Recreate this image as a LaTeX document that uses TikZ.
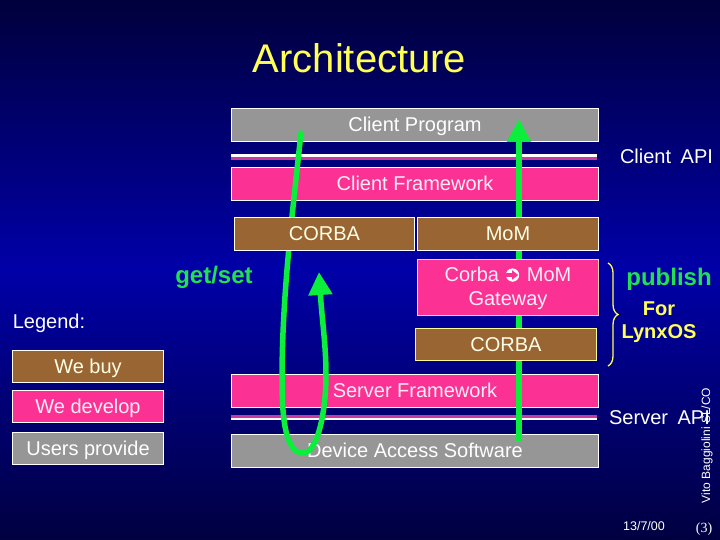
\documentclass[tikz,border=0pt]{standalone}
\usepackage{fontspec}
\setmainfont{Liberation Sans}
\newfontfamily\serifnum{Liberation Serif}
\usetikzlibrary{arrows.meta,decorations.pathreplacing}
\definecolor{pinkbox}{HTML}{FB3194}
\definecolor{brownbox}{HTML}{996633}
\definecolor{greybox}{HTML}{969696}
\definecolor{arrowgreen}{HTML}{0BEE3C}
\definecolor{txtgreen}{HTML}{22E050}
\definecolor{hiyellow}{HTML}{FFFF55}
\definecolor{bgdark}{HTML}{00003C}
\definecolor{bgmid}{HTML}{0000A8}
\definecolor{bgbot}{HTML}{000040}
\definecolor{apiline}{HTML}{C83A9C}
\tikzset{
  x=1pt,y=-1pt,
  box/.style={draw=white,line width=1pt,inner sep=0pt,anchor=north west,align=center,font=\fontsize{20}{24}\selectfont},
  one/.style={text height=17pt,text depth=4pt},
  pinkb/.style={box,fill=pinkbox,text=white!92!pinkbox},
  brownb/.style={box,one,fill=brownbox,text=white!90!yellow},
  greyb/.style={box,one,fill=greybox,text=white},
  lab/.style={font=\fontsize{20}{24}\selectfont,text=white,inner sep=0pt},
  flow/.style={draw=arrowgreen,line width=5.5pt,line cap=round,-{Triangle[length=23pt,width=23pt]}},
  hi/.style={font=\bfseries\fontsize{24}{26}\selectfont,text=txtgreen,inner sep=0pt},
  yel/.style={font=\bfseries\fontsize{20}{23}\selectfont,text=hiyellow,inner sep=0pt,align=center},
}
\begin{document}
\begin{tikzpicture}
\useasboundingbox (0,0) rectangle (720,540);
\shade[top color=bgdark,bottom color=bgbot,middle color=bgmid] (0,0) rectangle (720,540);

\node[font=\fontsize{40}{44}\selectfont,text=hiyellow,inner sep=0pt] (title) at (359.5,58) {Architecture};

% layer boxes that the flows run over
\node[greyb,minimum width=367pt,minimum height=33pt] (prog) at (231,108) {Client Program};
\fill[white] (231,154.5) rectangle (597,157.5);
\fill[apiline] (231,157.5) rectangle (597,160);
\node[pinkb,one,minimum width=367pt,minimum height=33pt] (cfw) at (231,167) {Client Framework};
\node[pinkb,one,minimum width=367pt,minimum height=33pt] (sfw) at (231,374) {Server Framework};
\fill[apiline] (231,414.5) rectangle (597,417.5);
\fill[white] (231,417.5) rectangle (597,419.5);
\node[greyb,minimum width=367pt,minimum height=33pt] (das) at (231,434) {Device Access Software};

% flows
\coordinate (rstart) at (519,442);
\coordinate (rtip) at (519,119);
\coordinate (lstart) at (301,133);
\coordinate (lbot) at (303,453);
\coordinate (ltip) at (319,272);
\draw[flow,line cap=butt] (rstart) -- (rtip);
\draw[draw=arrowgreen,line width=5.5pt,line cap=round] (lstart) .. controls (291,225) and (282,300) .. (282,380) .. controls (282,425) and (287,453) .. (lbot);
\draw[flow] (lbot) .. controls (318,453) and (326,410) .. (326,375) .. controls (326,345) and (322,320) .. (ltip);

% boxes above the flows
\node[brownb,minimum width=180pt,minimum height=33pt] (corba1) at (234,217) {CORBA};
\node[brownb,minimum width=181pt,minimum height=33pt] (mom) at (417,217) {MoM};
\node[pinkb,draw=white!65!orange,minimum width=181pt,minimum height=56pt] (gw) at (417,259) {\rule{0pt}{17pt}Corba {\fontspec{DejaVu Sans}\fontsize{20}{18}\selectfont➲} MoM\\[0pt]Gateway};
% the circled arrow, drawn to the size of the glyph in the reference
\fill[white] (512.5,275) circle[radius=6.6pt];
\fill[pinkbox] (506,273.2) -- (512,273.2) -- (512,270.2) -- (518.2,275) -- (512,279.8) -- (512,276.8) -- (506,276.8) -- cycle;
\node[brownb,draw=white!60!yellow,minimum width=181pt,minimum height=32pt] (corba2) at (415,328) {CORBA};

% legend
\node[lab] (legend) at (49,323) {Legend:};
\node[brownb,minimum width=151pt,minimum height=32pt] (buy) at (12,350) {We buy};
\node[pinkb,one,minimum width=151pt,minimum height=32pt] (dev) at (12,390) {We develop};
\node[greyb,minimum width=151pt,minimum height=32pt] (users) at (12,432) {Users provide};

% labels
\node[lab] (capi) at (666.5,156) {Client\hspace{.2em} API};
\node[lab] (sapi) at (659.5,418) {Server\hspace{.2em} API};
\node[hi] (getset) at (214,277) {get/set};
\node[hi] (publish) at (669,279) {publish};
\node[yel] (lynx) at (659,322) {For\\LynxOS};
\coordinate (bt) at (608,263);
\coordinate (bb) at (608,366);
\draw[hiyellow,line width=1.3pt,decorate,decoration={brace,amplitude=10pt}] (bt) -- (bb);

\node[rotate=90,font=\fontsize{12}{15}\selectfont,text=white,inner sep=0pt] (vito) at (707,445.5) {Vito Baggiolini SL/CO};
\node[font=\fontsize{12.5}{15}\selectfont,text=white,inner sep=0pt] (date) at (644,526) {13/7/00};
\node[font=\serifnum\fontsize{14}{16}\selectfont,text=white,inner sep=0pt] (pg) at (704,529) {(3)};
\end{tikzpicture}
\end{document}
